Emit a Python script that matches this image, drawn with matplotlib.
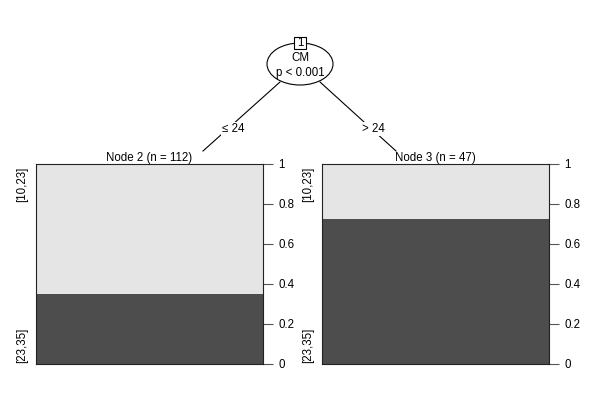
import matplotlib
matplotlib.use("Agg")
import matplotlib.pyplot as plt
from matplotlib.patches import Ellipse, Rectangle

plt.rcParams['font.family'] = ['Liberation Sans', 'DejaVu Sans']

# Data
split_var = "CM"
split_p = "p < 0.001"
edge_labels = ["\u2264 24", "> 24"]
node_ids = [2, 3]
node_n = [112, 47]
classes = ["[10,23]", "[23,35]"]
prop_low = [0.348, 0.723]   # proportion of class [23,35] (dark, bottom)
yticks = [0, 0.2, 0.4, 0.6, 0.8, 1]
ytick_labels = ["0", "0.2", "0.4", "0.6", "0.8", "1"]

light = "#E5E5E5"
dark = "#4D4D4D"
fs = 8.3

fig = plt.figure(figsize=(6, 4), dpi=100)
fig.patch.set_facecolor("white")

# Overlay axes in pixel coordinates for tree drawing
ov = fig.add_axes([0, 0, 1, 1])
ov.set_xlim(0, 600)
ov.set_ylim(400, 0)
ov.axis("off")

# edges
ov.plot([280, 203], [82, 151], color="black", lw=0.8)
ov.plot([320, 396], [82, 151], color="black", lw=0.8)
ov.text(233, 129, edge_labels[0], ha="center", va="center", fontsize=fs,
        bbox=dict(facecolor="white", edgecolor="none", pad=0.5))
ov.text(373, 129, edge_labels[1], ha="center", va="center", fontsize=fs,
        bbox=dict(facecolor="white", edgecolor="none", pad=0.5))

# root node
ov.add_patch(Ellipse((300, 64), 66, 42, facecolor="white", edgecolor="black", lw=0.8))
ov.add_patch(Rectangle((294, 37), 12, 12, facecolor="white", edgecolor="black", lw=0.8))
ov.text(300, 43.5, "1", ha="center", va="center", fontsize=fs)
ov.text(300, 58, split_var, ha="center", va="center", fontsize=fs)
ov.text(300, 73, split_p, ha="center", va="center", fontsize=fs)

panel_left = [36, 322]
panel_w = 227
panel_top = 164
panel_bot = 364

for i in range(2):
    x0 = panel_left[i]
    ax = fig.add_axes([x0 / 600, (400 - panel_bot) / 400, panel_w / 600,
                       (panel_bot - panel_top) / 400])
    p = prop_low[i]
    ax.bar([0.5], [p], width=1, color=dark, edgecolor="none")
    ax.bar([0.5], [1 - p], bottom=[p], width=1, color=light, edgecolor="none")
    ax.set_xlim(0, 1)
    ax.set_ylim(0, 1)
    ax.set_xticks([])
    ax.yaxis.tick_right()
    ax.set_yticks(yticks)
    ax.set_yticklabels(ytick_labels, fontsize=fs)
    ax.tick_params(axis="y", length=7, width=0.8, pad=4, color="#555555")
    for s in ["left", "top", "bottom", "right"]:
        ax.spines[s].set_color("#222222")
        ax.spines[s].set_linewidth(0.8)
    ax.patch.set_alpha(0)
    # node label
    ov.text(x0 + panel_w / 2, 158, f"Node {node_ids[i]} (n = {node_n[i]})",
            ha="center", va="center", fontsize=fs)
    # class labels on left
    ov.text(x0 - 14, 184, classes[0], ha="center", va="center", rotation=90, fontsize=fs)
    ov.text(x0 - 14, 345, classes[1], ha="center", va="center", rotation=90, fontsize=fs)

fig.savefig("out.png", dpi=100)
